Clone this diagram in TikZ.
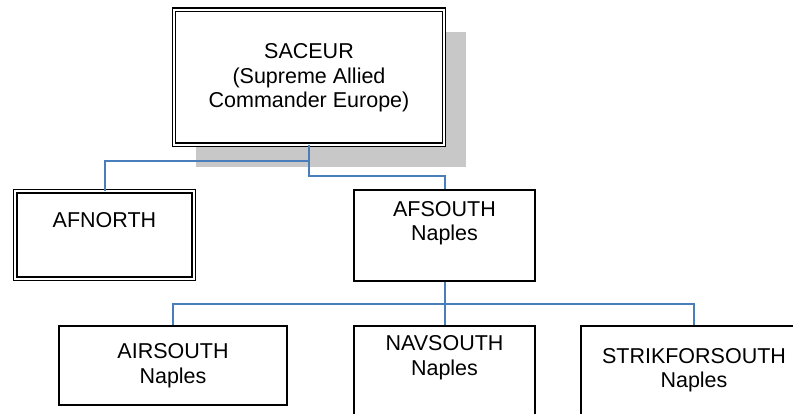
\documentclass[tikz,border=0pt]{standalone}
\usepackage{fontspec}
\setmainfont{Liberation Sans}
\usetikzlibrary{positioning}
\usetikzlibrary{shadows}
\definecolor{linkblue}{RGB}{74,126,187}
\definecolor{shadowgray}{RGB}{200,200,200}

\tikzset{
  unitbox/.style={draw=black, line width=2pt, fill=white, inner sep=0pt},
  dblbox/.style={draw=black, line width=1.4pt, double=white, double distance=2pt, fill=white, inner sep=0pt},
  lbl/.style={align=center, inner sep=0pt, font=\fontsize{21.5}{24.5}\selectfont},
  link/.style={linkblue, line width=2pt}
}

\begin{document}
\begin{tikzpicture}[x=1pt,y=-1pt]
\useasboundingbox (0,0) rectangle (793,413);
\clip (0,0) rectangle (793,413);

% top level
\node[dblbox, minimum width=270pt, minimum height=135pt,
  drop shadow={shadow xshift=22pt, shadow yshift=-22pt, fill=shadowgray, opacity=1}]
  (saceur) at (309,77) {};
\node[lbl] (saceurtxt) at (309,78) {SACEUR\\ (Supreme Allied\\Commander Europe)};

% second level
\node[dblbox, minimum width=178.6pt, minimum height=87.6pt] (afnorth) at (104.5,235) {};
\node[lbl] (afnorthtxt) at (104.5,220) {AFNORTH};

\node[unitbox, minimum width=181pt, minimum height=91pt] (afsouth) at (444.5,235.5) {};
\node[lbl] (afsouthtxt) at (444.5,223) {AFSOUTH\\Naples};

% third level
\node[unitbox, minimum width=228pt, minimum height=79pt] (air) at (173,365.5) {};
\node[lbl] (airtxt) at (173,365.5) {AIRSOUTH\\Naples};

\node[unitbox, minimum width=181pt, minimum height=100pt] (nav) at (444.5,376) {};
\node[lbl] (navtxt) at (444.5,357.5) {NAVSOUTH\\Naples};

\node[unitbox, minimum width=226pt, minimum height=104pt] (strik) at (694,378) {};
\node[lbl] (striktxt) at (694,370) {STRIKFORSOUTH\\Naples};

% connectors
\draw[link] (saceur.south) -- ++(0,16) -| (afnorth.north);
\draw[link] (saceur.south) -- ++(0,31) -| (afsouth.north);

\draw[link] (afsouth.south) -- ++(0,22) coordinate (bus) -| (air.north);
\draw[link] (bus) -| (strik.north);
\draw[link] (bus) -- (nav.north);

\end{tikzpicture}
\end{document}
